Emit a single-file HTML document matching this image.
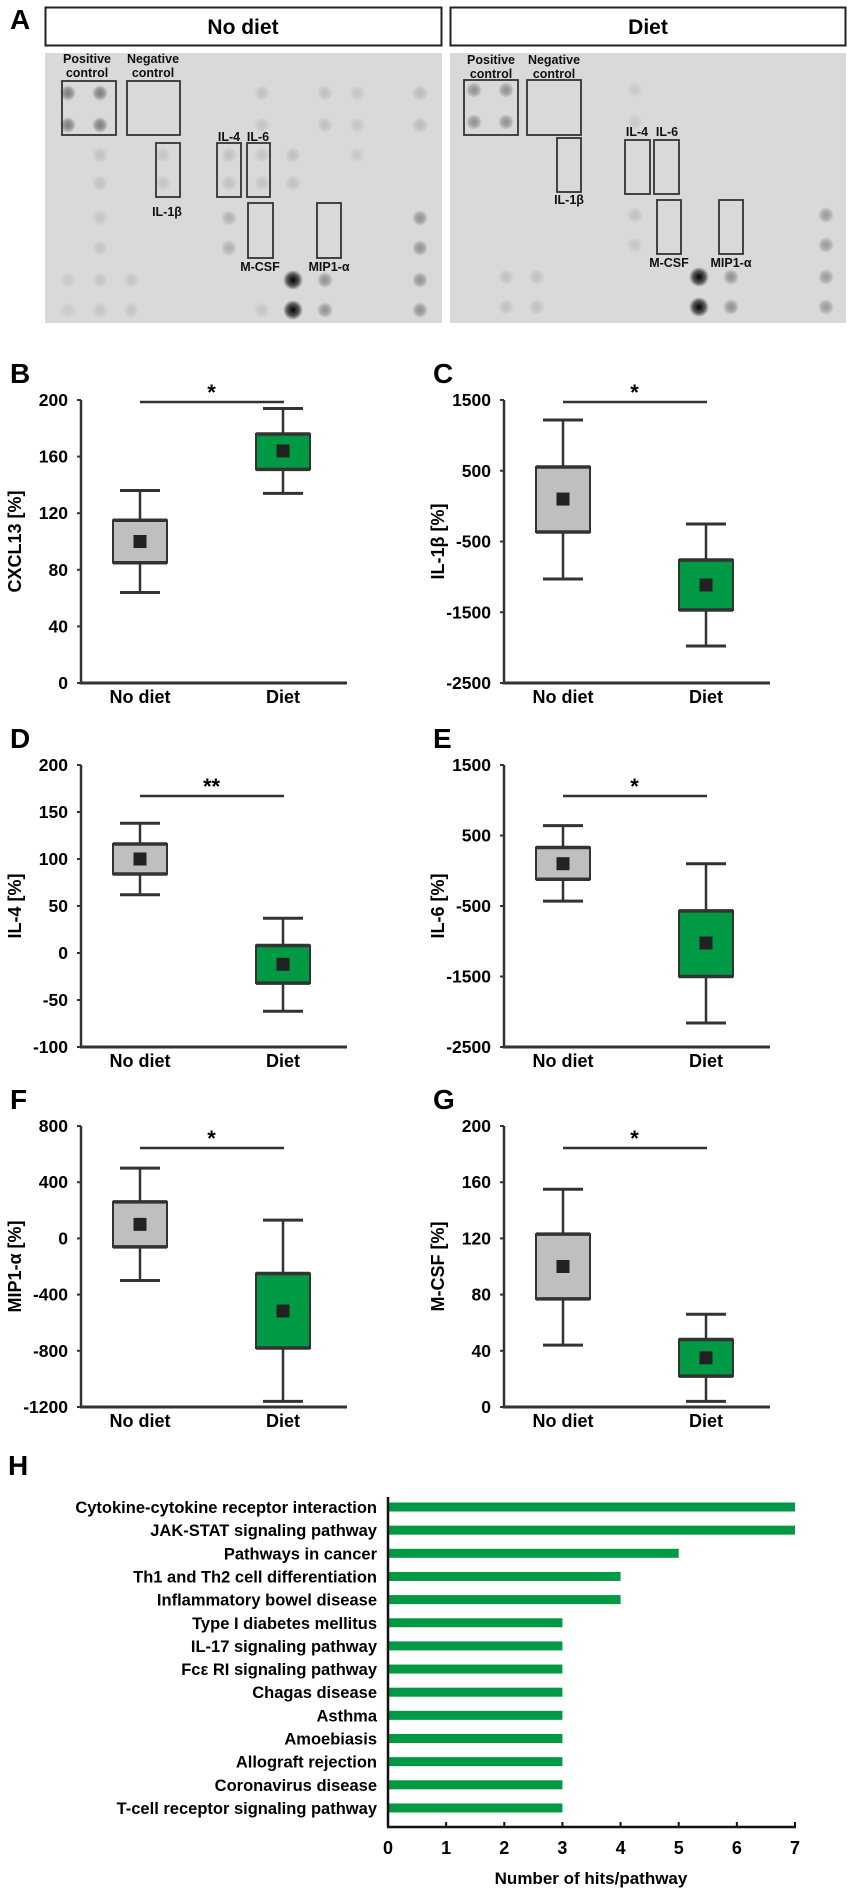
<!DOCTYPE html>
<html><head><meta charset="utf-8"><style>
html,body{margin:0;padding:0;background:#fff;}
svg{display:block;font-family:"Liberation Sans",Arial,sans-serif;font-weight:bold;}
</style></head><body>
<svg id="fig" width="851" height="1895" viewBox="0 0 851 1895" xmlns="http://www.w3.org/2000/svg">
<defs>
<radialGradient id="spotG"><stop offset="0" stop-color="#000" stop-opacity="1"/><stop offset="0.6" stop-color="#000" stop-opacity="0.6"/><stop offset="1" stop-color="#000" stop-opacity="0"/></radialGradient>
</defs>
<g id="panelA">
<text x="10" y="29" font-size="28">A</text>
<rect x="45.5" y="7.5" width="396" height="38" fill="#fff" stroke="#222" stroke-width="2"/>
<text x="243" y="34" font-size="21" text-anchor="middle">No diet</text>
<rect x="450.5" y="7.5" width="395" height="38" fill="#fff" stroke="#222" stroke-width="2"/>
<text x="648" y="34" font-size="21" text-anchor="middle">Diet</text>
<rect x="45" y="53" width="397" height="270" fill="#d9d9d9"/>
<rect x="450" y="53" width="396" height="270" fill="#d9d9d9"/>
<g id="spots"></g>
<g font-size="12.5" text-anchor="middle" fill="#111">
<text x="87" y="63">Positive</text><text x="87" y="77">control</text>
<text x="153" y="63">Negative</text><text x="153" y="77">control</text>
<text x="167" y="216">IL-1β</text>
<text x="229" y="141">IL-4</text>
<text x="258" y="141">IL-6</text>
<text x="260" y="271">M-CSF</text>
<text x="329" y="271">MIP1-α</text>
<text x="491" y="64">Positive</text><text x="491" y="78">control</text>
<text x="554" y="64">Negative</text><text x="554" y="78">control</text>
<text x="569" y="204">IL-1β</text>
<text x="637" y="136">IL-4</text>
<text x="667" y="136">IL-6</text>
<text x="669" y="267">M-CSF</text>
<text x="731" y="267">MIP1-α</text>
</g>
<g fill="none" stroke="#333" stroke-width="1.8">
<rect x="62" y="81" width="54" height="54"/>
<rect x="127" y="81" width="53" height="54"/>
<rect x="156" y="143" width="24" height="54"/>
<rect x="217" y="143" width="24" height="54"/>
<rect x="247" y="143" width="23" height="54"/>
<rect x="248" y="203" width="25" height="55"/>
<rect x="317" y="203" width="24" height="55"/>
<rect x="464" y="80" width="54" height="55"/>
<rect x="527" y="80" width="54" height="55"/>
<rect x="557" y="138" width="24" height="54"/>
<rect x="625" y="140" width="25" height="54"/>
<rect x="654" y="140" width="25" height="54"/>
<rect x="657" y="200" width="24" height="54"/>
<rect x="719" y="200" width="24" height="54"/>
</g>
</g>
<g id="boxes"></g>
<g id="panelH"></g>
</svg>
<script>
// ---- Blot spots (image decoration, not chart data) ----
const NS="http://www.w3.org/2000/svg";
const spotCols=[68,100,131,163,193,229,262,293,325,357,390,420];
const spotRows=[93,125,155,183,218,248,280,310];
const spotsL=[[0,0,.45],[0,1,.45],[1,0,.45],[1,1,.45],[0,6,.12],[0,8,.12],[0,9,.1],[0,11,.15],[1,6,.1],[1,8,.12],[1,9,.1],[1,11,.15],[2,1,.12],[2,3,.1],[2,5,.12],[2,6,.1],[2,7,.12],[2,9,.08],[3,1,.12],[3,3,.1],[3,5,.12],[3,6,.1],[3,7,.12],[4,1,.1],[4,5,.2],[4,11,.35],[5,1,.1],[5,5,.2],[5,11,.35],[6,0,.08],[6,1,.1],[6,2,.1],[6,7,1],[6,8,.35],[6,11,.35],[7,0,.08],[7,1,.1],[7,2,.1],[7,6,.1],[7,7,1],[7,8,.35],[7,11,.35]];
const spotsR=[[0,0,.35],[0,1,.35],[1,0,.35],[1,1,.35],[0,5,.08],[1,5,.08],[4,5,.12],[4,11,.3],[5,5,.1],[5,11,.3],[6,1,.12],[6,2,.12],[6,7,1],[6,8,.35],[6,11,.3],[7,1,.12],[7,2,.12],[7,7,1],[7,8,.35],[7,11,.3]];
const sg=document.getElementById('spots');
function spot(x,y,a,name){const c=document.createElementNS(NS,'circle');c.setAttribute('cx',x);c.setAttribute('cy',y);c.setAttribute('r',a>0.8?10:8);c.setAttribute('fill','url(#spotG)');c.setAttribute('opacity',a);


sg.appendChild(c);}
spotsL.forEach(s=>spot(spotCols[s[1]],spotRows[s[0]],s[2],'blot-spot-no-diet'));
spotsR.forEach(s=>spot(spotCols[s[1]]+406,spotRows[s[0]]-3,s[2],'blot-spot-diet'));

// ---- Boxplot data ----
const groups=["No diet","Diet"];
const cxcl13Stats=[[64,85,100,115,136],[134,151,164,176,194]]; // min,q1,mean,q3,max
const il1bStats=[[-1030,-366,100,553,1217],[-1977,-1468,-1115,-761,-253]];
const il4Stats=[[62,84,100,116,138],[-62,-32,-12,8,37]];
const il6Stats=[[-430,-120,100,330,640],[-2160,-1500,-1025,-570,100]];
const mipStats=[[-300,-60,100,260,500],[-1160,-780,-517,-250,130]];
const mcsfStats=[[44,77,100,123,155],[4,22,35,48,66]];
const cxcl13Ticks=[0,40,80,120,160,200];
const il1bTicks=[-2500,-1500,-500,500,1500];
const il4Ticks=[-100,-50,0,50,100,150,200];
const il6Ticks=[-2500,-1500,-500,500,1500];
const mipTicks=[-1200,-800,-400,0,400,800];
const mcsfTicks=[0,40,80,120,160,200];
const sigMarks=["*","*","**","*","*","*"];

const panels=[
 {id:'b',letter:'B',title:'CXCL13 [%]',stats:cxcl13Stats,ticks:cxcl13Ticks,ax:81,top:400,bot:683,sigY:402,sig:sigMarks[0]},
 {id:'c',letter:'C',title:'IL-1β [%]',stats:il1bStats,ticks:il1bTicks,ax:504,top:400,bot:683,sigY:402,sig:sigMarks[1]},
 {id:'d',letter:'D',title:'IL-4 [%]',stats:il4Stats,ticks:il4Ticks,ax:81,top:765,bot:1047,sigY:796,sig:sigMarks[2]},
 {id:'e',letter:'E',title:'IL-6 [%]',stats:il6Stats,ticks:il6Ticks,ax:504,top:765,bot:1047,sigY:796,sig:sigMarks[3]},
 {id:'f',letter:'F',title:'MIP1-α [%]',stats:mipStats,ticks:mipTicks,ax:81,top:1126,bot:1407,sigY:1148,sig:sigMarks[4]},
 {id:'g',letter:'G',title:'M-CSF [%]',stats:mcsfStats,ticks:mcsfTicks,ax:504,top:1126,bot:1407,sigY:1148,sig:sigMarks[5]}
];
const bg=document.getElementById('boxes');
function el(tag,attrs,parent,text){const e=document.createElementNS(NS,tag);for(const k in attrs)e.setAttribute(k,attrs[k]);if(text!==undefined)e.textContent=text;(parent||bg).appendChild(e);return e;}
panels.forEach(p=>{
 const g=el('g',{});
 
 
 const lo=p.ticks[0],hi=p.ticks[p.ticks.length-1];
 const y=v=>p.bot-(v-lo)/(hi-lo)*(p.bot-p.top);
 const xc=i=>p.ax+59+i*143;
 const lt=el('text',{x:p.ax-71,y:p.top-17,'font-size':28},g,p.letter);
 
 
 // axes
 const ya=el('line',{x1:p.ax,y1:p.top,x2:p.ax,y2:p.bot+1.5,stroke:'#333','stroke-width':2.5},g);
 
 
 const xa=el('line',{x1:p.ax-1,y1:p.bot,x2:p.ax+266,y2:p.bot,stroke:'#333','stroke-width':3},g);
 
 
 p.ticks.forEach(t=>{
  const tk=el('line',{x1:p.ax-4,y1:y(t),x2:p.ax,y2:y(t),stroke:'#333','stroke-width':2},g);
  
  
  const tl=el('text',{x:p.ax-13,y:y(t)+6,'font-size':17.5,'text-anchor':'end'},g,String(t));
  
  
 });
 const yt=el('text',{x:0,y:0,'font-size':18,'text-anchor':'middle',transform:`translate(${p.ax-60},${(p.top+p.bot)/2}) rotate(-90)`},g,p.title);
 
 
 groups.forEach((gname,i)=>{
  const s=p.stats[i];const x=xc(i);
  const xl=el('text',{x:x,y:p.bot+20,'font-size':18,'text-anchor':'middle'},g,gname);
  
  
  const w=el('line',{x1:x,y1:y(s[0]),x2:x,y2:y(s[4]),stroke:'#333','stroke-width':2.5},g);
  
  
  [s[0],s[4]].forEach(v=>{const c=el('line',{x1:x-20,y1:y(v),x2:x+20,y2:y(v),stroke:'#333','stroke-width':3},g);
   
   });
  const b=el('rect',{x:x-27,y:y(s[3]),width:54,height:y(s[1])-y(s[3]),fill:i?'#009a44':'#bfbfbf',stroke:'#333','stroke-width':2},g);
  
  
  [s[1],s[3]].forEach(v=>{const q=el('line',{x1:x-27,y1:y(v),x2:x+27,y2:y(v),stroke:'#333','stroke-width':3.5},g);
   
   });
  const m=el('rect',{x:x-6.5,y:y(s[2])-6.5,width:13,height:13,fill:'#222'},g);
  
  
 });
 const sl=el('line',{x1:xc(0),y1:p.sigY,x2:xc(1)+1,y2:p.sigY,stroke:'#333','stroke-width':2.5},g);
 
 
 const st=el('text',{x:(xc(0)+xc(1))/2,y:p.sigY-2,'font-size':22,'text-anchor':'middle'},g,p.sig);
 
 
});

// ---- Panel H bar chart ----
const pathways=["Cytokine-cytokine receptor interaction","JAK-STAT signaling pathway","Pathways in cancer","Th1 and Th2 cell differentiation","Inflammatory bowel disease","Type I diabetes mellitus","IL-17 signaling pathway","Fcε RI signaling pathway","Chagas disease","Asthma","Amoebiasis","Allograft rejection","Coronavirus disease","T-cell receptor signaling pathway"];
const hits=[7,7,5,4,4,3,3,3,3,3,3,3,3,3];
const hTicks=[0,1,2,3,4,5,6,7];
const hg=document.getElementById('panelH');
const hx0=388,hx7=795,hTop=1497,hAxisY=1827,firstY=1507,stepY=23.15;
const hx=v=>hx0+(v-hTicks[0])/(hTicks[hTicks.length-1]-hTicks[0])*(hx7-hx0);
const hy=i=>firstY+i*stepY;
const hl=el('text',{x:8,y:1475,'font-size':28},hg,'H');


pathways.forEach((name,i)=>{
 const r=el('rect',{x:hx(0),y:hy(i)-4.5,width:hx(hits[i])-hx(0),height:9,fill:'#009a44'},hg);
 
 
 const t=el('text',{x:377,y:hy(i)+6,'font-size':16.5,'text-anchor':'end'},hg,name);
 
 
});
const hya=el('line',{x1:hx0,y1:hTop,x2:hx0,y2:hAxisY,stroke:'#111','stroke-width':2.5},hg);


const hxa=el('line',{x1:hx0-1,y1:hAxisY,x2:hx7+1,y2:hAxisY,stroke:'#111','stroke-width':2.5},hg);


hTicks.forEach(t=>{
 const tk=el('line',{x1:hx(t),y1:hAxisY-5,x2:hx(t),y2:hAxisY,stroke:'#111','stroke-width':2},hg);
 
 
 const tl=el('text',{x:hx(t),y:1854,'font-size':18,'text-anchor':'middle'},hg,String(t));
 
 
});
const hxt=el('text',{x:591,y:1884,'font-size':17,'text-anchor':'middle'},hg,'Number of hits/pathway');


</script>
</body></html>
